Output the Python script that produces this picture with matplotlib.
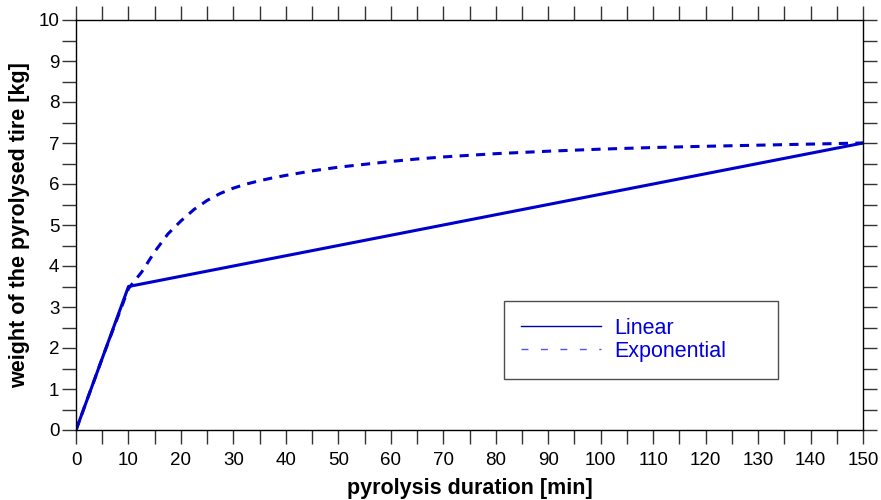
import matplotlib.pyplot as plt
from matplotlib.lines import Line2D
from matplotlib.ticker import MultipleLocator

plt.rcParams['font.family'] = ['Liberation Sans', 'DejaVu Sans']

# data
linear_t = [0, 10, 150]
linear_w = [0, 3.5, 7.0]

exp_t = [0, 5, 10, 12.5, 15, 17.5, 20, 22.5, 25, 27.5, 30, 32.5, 35, 37.5,
         40, 45, 50, 55, 60, 65, 70, 80, 90, 100, 110, 120, 135, 150]
exp_w = [0, 1.75, 3.45, 3.85, 4.35, 4.78, 5.1, 5.38, 5.6, 5.77, 5.9, 6.0,
         6.08, 6.15, 6.21, 6.32, 6.41, 6.48, 6.55, 6.61, 6.66, 6.74, 6.8,
         6.85, 6.89, 6.92, 6.96, 7.0]

LINE_COLOR = '#0000cc'

fig = plt.figure(figsize=(8.81, 5.0), dpi=100)
ax = fig.add_axes([0.0863, 0.14, 0.8933, 0.82])

ax.plot(linear_t, linear_w, color=LINE_COLOR, lw=2.2, solid_capstyle='butt')
ax.plot(exp_t, exp_w, color=LINE_COLOR, lw=2.2, dashes=(3, 2.4))

ax.set_xlim(0, 150)
ax.set_ylim(0, 10)
ax.xaxis.set_major_locator(MultipleLocator(10))
ax.xaxis.set_minor_locator(MultipleLocator(5))
ax.yaxis.set_major_locator(MultipleLocator(1))
ax.yaxis.set_minor_locator(MultipleLocator(0.5))
ax.tick_params(which='both', direction='out', top=True, right=True,
               labeltop=False, labelright=False, length=10, width=1,
               color='#333333')
ax.tick_params(which='major', labelsize=13.5)
ax.tick_params(axis='x', which='major', pad=6)
ax.tick_params(axis='y', which='major', pad=2)
for s in ax.spines.values():
    s.set_linewidth(1)

ax.set_xlabel('pyrolysis duration [min]', fontsize=15.5, fontweight='bold',
              labelpad=6)
ax.set_ylabel('weight of the pyrolysed tire [kg]', fontsize=15.5,
              fontweight='bold', labelpad=6)

# legend lines are thinner than the plotted curves in the reference
handles = [Line2D([], [], color='#0000aa', lw=1.0),
           Line2D([], [], color='#5555ee', lw=1.0, dashes=(5, 9))]
leg = ax.legend(handles, ['Linear', 'Exponential'], loc='lower left',
                bbox_to_anchor=(0.544, 0.124, 0.348, 0.191), mode='expand',
                fontsize=15.5, frameon=True, fancybox=False, handlelength=3.7,
                borderpad=0.8, labelspacing=0.1, handletextpad=0.6,
                borderaxespad=0)
leg.get_frame().set_edgecolor('#222222')
leg.get_frame().set_linewidth(1)
for t in leg.get_texts():
    t.set_color('#0000dd')

fig.savefig('out.png', dpi=100)
